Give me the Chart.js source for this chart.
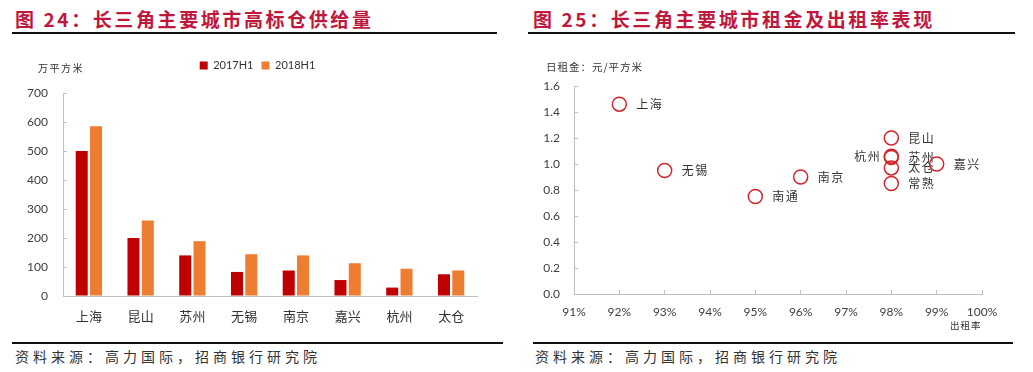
<!DOCTYPE html>
<html><head><meta charset="utf-8">
<script src="https://cdn.jsdelivr.net/npm/chart.js@4/dist/chart.umd.min.js"></script>
<style>
html,body{margin:0;padding:0;background:#fff;}
body{width:1033px;height:372px;position:relative;overflow:hidden;font-family:"Noto Sans CJK SC",sans-serif;}
.title{position:absolute;top:5px;font-size:19px;font-weight:700;color:#C0173D;letter-spacing:2.6px;line-height:28px;white-space:nowrap;}
.rule{position:absolute;height:2px;background:#111;}
.src{position:absolute;top:346px;font-size:14px;color:#333;letter-spacing:4px;line-height:20px;white-space:nowrap;}
.note{position:absolute;color:#333;white-space:nowrap;}
.box{position:absolute;}
</style></head>
<body>
<div class="title" style="left:15px">图 24：长三角主要城市高标仓供给量</div>
<div class="rule" style="left:12px;width:485px;top:32px"></div>
<div class="title" style="left:533px">图 25：长三角主要城市租金及出租率表现</div>
<div class="rule" style="left:528px;width:487px;top:32px"></div>
<div class="box" style="left:0;top:44px;width:505px;height:296px"><canvas id="c1"></canvas></div>
<div class="box" style="left:520px;top:44px;width:513px;height:296px"><canvas id="c2"></canvas></div>
<div class="note" style="left:38px;top:61px;font-size:10px;letter-spacing:1.5px;line-height:14px">万平方米</div>
<div class="note" style="left:546px;top:60px;font-size:10.5px;letter-spacing:1px;line-height:14px">日租金：元/平方米</div>
<div class="note" style="left:950px;top:318px;font-size:9.5px;letter-spacing:1px;line-height:14px">出租率</div>
<div class="rule" style="left:12px;width:491px;top:342px"></div>
<div class="rule" style="left:533px;width:480px;top:342px"></div>
<div class="src" style="left:15px">资料来源：高力国际，招商银行研究院</div>
<div class="src" style="left:535px">资料来源：高力国际，招商银行研究院</div>
<script>
// ---- Chart 24 data ----
const cities = ['上海','昆山','苏州','无锡','南京','嘉兴','杭州','太仓'];
const seriesNames = ['2017H1','2018H1'];
const supply2017 = [500,200,140,83,88,55,29,75];
const supply2018 = [585,260,189,144,140,113,94,88];
const supplyTicks = [0,100,200,300,400,500,600,700];

// ---- Chart 25 data ----
const rentCities = ['上海','无锡','南通','南京','昆山','杭州','苏州','太仓','常熟','嘉兴'];
const occupancy = [92,93,95,96,98,98,98,98,98,99];
const dailyRent = [1.46,0.95,0.75,0.90,1.20,1.06,1.05,0.97,0.85,1.00];
const occTicks = [91,92,93,94,95,96,97,98,99,100];
const rentTicks = [0,0.2,0.4,0.6,0.8,1.0,1.2,1.4,1.6];
const leftLabeled = ['杭州'];

const AXIS = '#BFBFBF';
const TICKFONT = {family:'Lato, "Noto Sans CJK SC", sans-serif', size:12};

const legendGap = {
  id:'legendGap',
  beforeLayout(chart){
    const lg = chart.legend;
    if (lg && !lg._patched){
      const f = lg.fit;
      lg.fit = function(){ f.call(this); this.height = 41; };
      lg._patched = true;
    }
  },
  afterLayout(chart){
    const lg = chart.legend;
    if (lg){ lg.left += 19; lg.right += 19; }
  }
};

new Chart(document.getElementById('c1'), {
  type:'bar',
  data:{
    labels:cities,
    datasets:[
      {label:seriesNames[0], data:supply2017, backgroundColor:'#C00000', categoryPercentage:0.553, barPercentage:0.84},
      {label:seriesNames[1], data:supply2018, backgroundColor:'#ED7D31', categoryPercentage:0.553, barPercentage:0.84}
    ]
  },
  options:{
    responsive:true, maintainAspectRatio:false, animation:false,
    layout:{padding:{top:8,right:28,bottom:0,left:0}},
    plugins:{
      legend:{position:'top', align:'center',
        labels:{boxWidth:8, boxHeight:8, padding:8, color:'#333', font:{family:'Lato, sans-serif', size:11}}},
      tooltip:{enabled:false}
    },
    scales:{
      x:{
        grid:{display:false, drawTicks:false},
        border:{display:true, color:AXIS, width:1},
        ticks:{padding:12, color:'#333', font:{family:'"Noto Sans CJK SC", sans-serif', size:13}, maxRotation:0, autoSkip:false},
        afterFit(s){ s.height = 44; }
      },
      y:{
        min:0, max:700,
        afterBuildTicks(s){ s.ticks = supplyTicks.map(v=>({value:v})); },
        grid:{display:true, drawOnChartArea:false, drawTicks:true, tickLength:-4, color:AXIS},
        border:{display:true, color:AXIS, width:1},
        ticks:{padding:19, color:'#404040', font:TICKFONT},
        afterFit(s){ s.width = 63; }
      }
    }
  },
  plugins:[legendGap]
});

const pointLabels = {
  id:'pointLabels',
  beforeDatasetsDraw(chart){
    const ctx = chart.ctx;
    const meta = chart.getDatasetMeta(0);
    ctx.save();
    ctx.font = '12px "Noto Sans CJK SC", sans-serif';
    ctx.fillStyle = '#333';
    ctx.textBaseline = 'middle';
    try { ctx.letterSpacing = '1.5px'; } catch(e){}
    meta.data.forEach((el,i)=>{
      const name = rentCities[i];
      const left = leftLabeled.includes(name);
      ctx.textAlign = left ? 'right' : 'left';
      ctx.fillText(name, left ? el.x - 10 : el.x + 17, el.y);
    });
    ctx.restore();
  }
};

new Chart(document.getElementById('c2'), {
  type:'scatter',
  data:{
    datasets:[{
      label:'出租率',
      data:occupancy.map((x,i)=>({x:x, y:dailyRent[i]})),
      pointRadius:7, pointHoverRadius:7,
      pointBorderColor:'#D0262B', pointBackgroundColor:'rgba(0,0,0,0)', pointBorderWidth:1.5
    }]
  },
  options:{
    responsive:true, maintainAspectRatio:false, animation:false,
    layout:{padding:{top:42,right:51,bottom:0,left:20}},
    plugins:{legend:{display:false}, tooltip:{enabled:false}},
    scales:{
      x:{
        type:'linear', min:91, max:100,
        afterBuildTicks(s){ s.ticks = occTicks.map(v=>({value:v})); },
        grid:{display:true, drawOnChartArea:false, drawTicks:true, tickLength:-4, color:AXIS},
        border:{display:true, color:AXIS, width:1},
        ticks:{padding:15, color:'#404040', font:TICKFONT, maxRotation:0, callback:v=>v+'%'},
        afterFit(s){ s.height = 46; }
      },
      y:{
        min:0, max:1.6,
        afterBuildTicks(s){ s.ticks = rentTicks.map(v=>({value:v})); },
        grid:{display:true, drawOnChartArea:false, drawTicks:true, tickLength:-4, color:AXIS},
        border:{display:true, color:AXIS, width:1},
        ticks:{padding:18, color:'#404040', font:TICKFONT, callback:v=>Number(v).toFixed(1)},
        afterFit(s){ s.width = 34; }
      }
    }
  },
  plugins:[pointLabels]
});
</script>
</body></html>
